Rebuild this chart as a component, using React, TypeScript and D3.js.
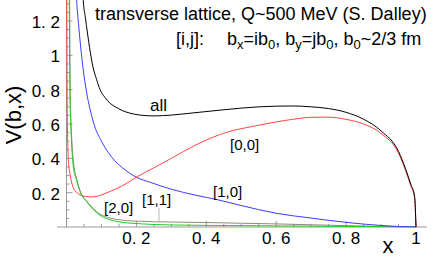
import React from 'react';
import * as d3 from 'd3';

const W = 436;
const H = 261;

// [x, V(b,x)] samples
const allCurve: [number, number][] = [
  [0.044, 1.5], [0.048, 1.32], [0.054, 1.22], [0.06, 1.13], [0.068, 1.02], [0.076, 0.93],
  [0.086, 0.86], [0.096, 0.8], [0.11, 0.755], [0.125, 0.72], [0.14, 0.7], [0.16, 0.678],
  [0.18, 0.664], [0.21, 0.652], [0.25, 0.647], [0.3, 0.652], [0.35, 0.662], [0.45, 0.683],
  [0.55, 0.7], [0.6, 0.704], [0.65, 0.705], [0.7, 0.7], [0.75, 0.69], [0.8, 0.668],
  [0.85, 0.628], [0.9, 0.56], [0.95, 0.44], [0.97, 0.34], [0.985, 0.25], [0.996, 0.18], [1, 0],
];
const curve00: [number, number][] = [
  [0.0008, 1.5], [0.002, 0.7], [0.004, 0.45], [0.007, 0.35], [0.01, 0.31], [0.019, 0.23],
  [0.03, 0.2], [0.04, 0.186], [0.055, 0.177], [0.07, 0.175], [0.085, 0.178], [0.1, 0.187],
  [0.13, 0.212], [0.16, 0.24], [0.2, 0.29], [0.25, 0.345], [0.3, 0.4], [0.37, 0.478],
  [0.46, 0.553], [0.53, 0.585], [0.6, 0.612], [0.65, 0.628], [0.7, 0.639], [0.75, 0.64],
  [0.8, 0.627], [0.85, 0.6], [0.9, 0.545], [0.95, 0.43], [0.97, 0.33], [0.985, 0.24],
  [0.996, 0.17], [1, 0],
];
const curve10: [number, number][] = [
  [0.026, 1.45], [0.029, 1.32], [0.035, 1.17], [0.04, 1.06], [0.047, 0.93], [0.057, 0.79],
  [0.067, 0.69], [0.08, 0.59], [0.1, 0.5], [0.13, 0.405], [0.16, 0.345], [0.2, 0.29],
  [0.24, 0.26], [0.3, 0.22], [0.37, 0.185], [0.43, 0.16], [0.5, 0.125], [0.6, 0.08],
  [0.7, 0.052], [0.8, 0.027], [0.9, 0.009], [0.95, 0.003], [1, 0],
];
const curve11: [number, number][] = [
  [0.007, 1.5], [0.009, 1.32], [0.01, 0.95], [0.011, 0.75], [0.014, 0.56], [0.02, 0.38],
  [0.03, 0.275], [0.04, 0.205], [0.058, 0.15], [0.075, 0.11], [0.096, 0.075], [0.12, 0.055],
  [0.15, 0.042], [0.2, 0.034], [0.3, 0.029], [0.4, 0.026], [0.5, 0.022], [0.6, 0.018],
  [0.7, 0.013], [0.8, 0.008], [0.9, 0.003], [1, 0],
];
const curve20: [number, number][] = [
  [0.006, 1.5], [0.008, 1.32], [0.009, 0.95], [0.01, 0.75], [0.013, 0.56], [0.019, 0.36],
  [0.029, 0.27], [0.04, 0.2], [0.058, 0.147], [0.075, 0.105], [0.096, 0.068], [0.12, 0.045],
  [0.15, 0.03], [0.2, 0.02], [0.3, 0.012], [0.5, 0.008], [0.7, 0.005], [0.9, 0.002], [1, 0],
];

const xTicks = [0.2, 0.4, 0.6, 0.8, 1];
const xTickLabels = ['0. 2', '0. 4', '0. 6', '0. 8', '1'];
const yTicks = [0.2, 0.4, 0.6, 0.8, 1, 1.2];
const yTickLabels = ['0. 2', '0. 4', '0. 6', '0. 8', '1', '1. 2'];

const font = '"Liberation Sans", Arial, Helvetica, sans-serif';

export default function App() {
  const x = d3.scaleLinear().domain([0, 1]).range([66.5, 416]);
  const y = d3.scaleLinear().domain([0, 1.2]).range([227, 21]);

  const line = d3.line<[number, number]>()
    .x(d => x(d[0]))
    .y(d => y(d[1]))
    .curve(d3.curveMonotoneX);

  const series = [
    { data: curve11, color: '#8c8c7a' },
    { data: curve20, color: '#22cc22' },
    { data: curve10, color: '#3c3cff' },
    { data: curve00, color: '#ff4444' },
    { data: allCurve, color: '#000000' },
  ];

  const xMinor = d3.range(0.05, 1.001, 0.05);
  const yMinor = d3.range(0.05, 1.31, 0.05);
  const axisColor = '#999';
  const isMajor = (t: number) => Math.abs(t * 5 - Math.round(t * 5)) < 1e-6;

  return (
    <svg width={W} height={H} style={{ position: 'absolute', left: 0, top: 0, background: '#fff' }}
      fontFamily={font}>
      <defs>
        <clipPath id="plot">
          <rect x={0} y={0} width={W} height={y(0) + 0.5} />
        </clipPath>
      </defs>

      {/* axes */}
      <line x1={57} x2={427} y1={y(0)} y2={y(0)} stroke={axisColor} />
      <line x1={x(0)} x2={x(0)} y1={0} y2={y(0)} stroke={axisColor} />
      {xMinor.map(t => (
        <line key={'xm' + t} x1={x(t)} x2={x(t)} y1={y(0)}
          y2={y(0) - (isMajor(t) ? 6 : 3)} stroke={axisColor} />
      ))}
      {yMinor.map(t => (
        <line key={'ym' + t} x1={x(0)} y1={y(t)} y2={y(t)}
          x2={x(0) + (isMajor(t) ? 6 : 3)} stroke={axisColor} />
      ))}
      {xTicks.map((t, i) => (
        <text key={'xt' + t} x={x(t)} y={244} textAnchor="middle" fontSize={17}>{xTickLabels[i]}</text>
      ))}
      {yTicks.map((t, i) => (
        <text key={'yt' + t} x={60} y={y(t) + 7} textAnchor="end" fontSize={17}>{yTickLabels[i]}</text>
      ))}

      {/* curves */}
      <g clipPath="url(#plot)" fill="none" strokeWidth={1}>
        {series.map((s, i) => (
          <path key={i} d={line(s.data) || ''} stroke={s.color} />
        ))}
      </g>

      {/* pointer for [1,1] */}
      <line x1={159} x2={159} y1={208} y2={223} stroke="#bbb" />

      {/* curve labels */}
      <text x={150} y={111} fontSize={17}>all</text>
      <text x={230} y={150} fontSize={15}>[0,0]</text>
      <text x={213} y={197} fontSize={15}>[1,0]</text>
      <text x={142} y={205} fontSize={15}>[1,1]</text>
      <text x={104} y={213} fontSize={15}>[2,0]</text>

      {/* header */}
      <text x={95} y={20} fontSize={18}>transverse lattice, Q~500 MeV (S. Dalley)</text>
      <text x={176} y={45} fontSize={18}>[i,j]:</text>
      <text x={227} y={45} fontSize={18}>
        b<tspan fontSize={13} dy={4}>x</tspan><tspan dy={-4}>=ib</tspan><tspan fontSize={13} dy={4}>0</tspan>
        <tspan dy={-4}>, b</tspan><tspan fontSize={13} dy={4}>y</tspan><tspan dy={-4}>=jb</tspan>
        <tspan fontSize={13} dy={4}>0</tspan><tspan dy={-4}>, b</tspan><tspan fontSize={13} dy={4}>0</tspan>
        <tspan dy={-4}>~2/3 fm</tspan>
      </text>

      {/* axis titles */}
      <text transform={`translate(21,115) rotate(-90)`} textAnchor="middle" fontSize={22}>V(b,x)</text>
      <text x={388} y={253} textAnchor="middle" fontSize={22}>x</text>
    </svg>
  );
}
